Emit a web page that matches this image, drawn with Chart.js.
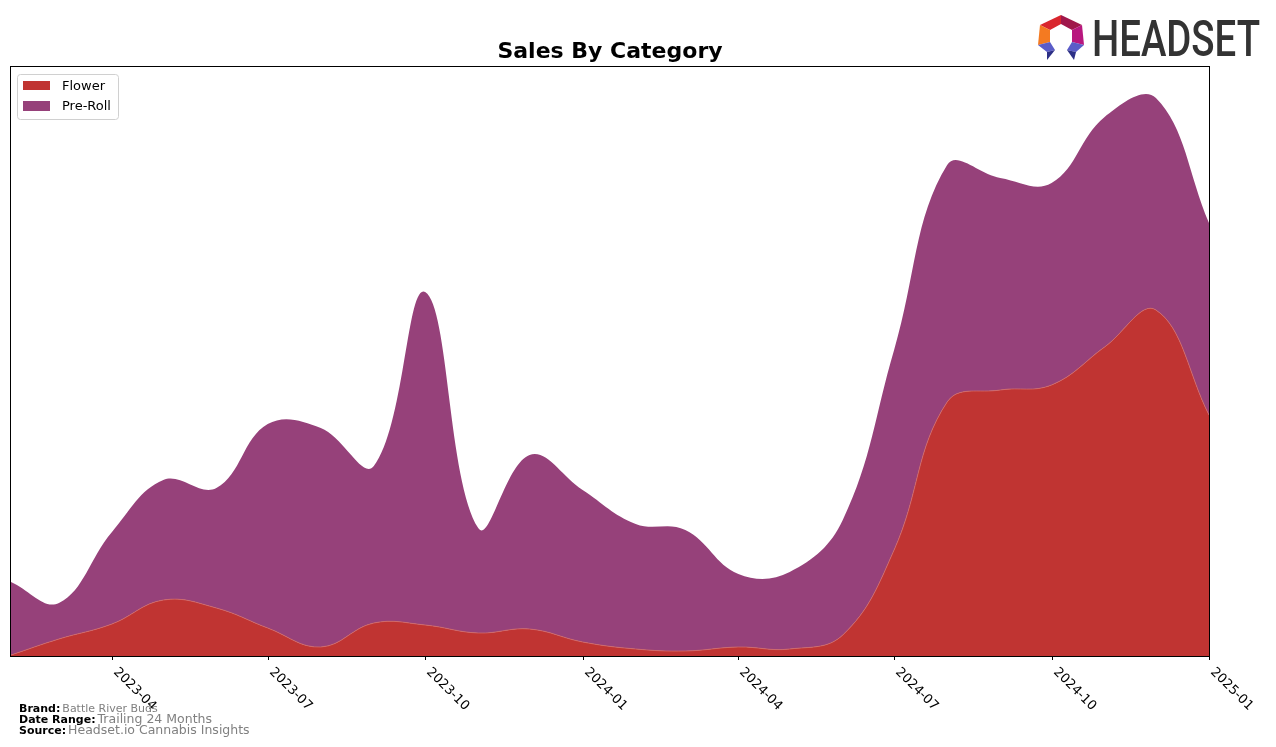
<!DOCTYPE html>
<html>
<head>
<meta charset="utf-8">
<script src="https://cdn.jsdelivr.net/npm/chart.js@4"></script>
<style>
html, body { margin: 0; padding: 0; background: #fff; }
#wrap { position: relative; width: 1276px; height: 747px; }
</style>
</head>
<body>
<div id="wrap"><canvas id="salesChart" width="1276" height="747"></canvas></div>
<script>
// Monthly points, first day of each month
const months = ['2023-02', '2023-03', '2023-04', '2023-05', '2023-06', '2023-07', '2023-08', '2023-09',
  '2023-10', '2023-11', '2023-12', '2024-01', '2024-02', '2024-03', '2024-04', '2024-05',
  '2024-06', '2024-07', '2024-08', '2024-09', '2024-10', '2024-11', '2024-12', '2025-01'];
const flowerSales = [1, 17, 32, 56, 48, 28, 9, 33, 31, 23, 27, 14, 7, 5, 9, 7, 21, 106, 254, 266, 271, 309, 346, 241];
const preRollSales = [73, 36, 92, 120, 120, 204, 219, 157, 333, 105, 174, 152, 125, 121, 73, 77, 115, 200, 237, 212, 202, 230, 212, 192];
const tickLabels = ['2023-04', '2023-07', '2023-10', '2024-01', '2024-04', '2024-07', '2024-10', '2025-01'];

const FLOWER = '#c03432';
const PREROLL = '#96417a';

function dayOffset(label) {
  const [y, m] = label.split('-').map(Number);
  return (Date.UTC(y, m - 1, 1) - Date.UTC(2023, 1, 1)) / 86400000;
}

function series(values) {
  return months.map((m, i) => ({ x: dayOffset(m), y: values[i] }));
}

// Draws frame, rotated date labels, title, legend, footer and logo
const decorations = {
  id: 'decorations',
  afterDraw(chart) {
    const c = chart.ctx;
    const a = chart.chartArea;
    const xs = chart.scales.x;
    c.save();

    // Frame
    c.strokeStyle = '#000';
    c.lineWidth = 1;
    c.strokeRect(a.left - 0.5, a.top - 0.5, a.width + 1, a.height + 1);

    // Ticks + labels
    c.font = '13px "DejaVu Sans", sans-serif';
    c.fillStyle = '#000';
    c.textAlign = 'left';
    c.textBaseline = 'middle';
    tickLabels.forEach((t) => {
      const px = Math.round(xs.getPixelForValue(dayOffset(t))) + 0.5;
      c.beginPath();
      c.moveTo(px, a.bottom);
      c.lineTo(px, a.bottom + 4);
      c.stroke();
      c.save();
      c.translate(px + 3, a.bottom + 14);
      c.rotate(Math.PI / 4);
      c.fillText(t, 0, 0);
      c.restore();
    });

    // Title
    c.font = 'bold 22px "DejaVu Sans", sans-serif';
    c.textAlign = 'center';
    c.fillText('Sales By Category', (a.left + a.right) / 2, 52);

    // Legend
    c.beginPath();
    c.roundRect(17.5, 74.5, 101, 45, 3);
    c.fillStyle = 'rgba(255,255,255,0.8)';
    c.fill();
    c.strokeStyle = '#d0d0d0';
    c.stroke();
    c.font = '13px "DejaVu Sans", sans-serif';
    c.textAlign = 'left';
    c.fillStyle = FLOWER;
    c.fillRect(23, 81, 27, 9);
    c.fillStyle = PREROLL;
    c.fillRect(23, 101, 27, 10);
    c.fillStyle = '#000';
    c.fillText('Flower', 62, 87);
    c.fillText('Pre-Roll', 62, 107);

    // Footer
    const footer = [['Brand:', 'Battle River Buds', 11, 709], ['Date Range:', 'Trailing 24 Months', 12.5, 720], ['Source:', 'Headset.io Cannabis Insights', 12.5, 731]];
    footer.forEach(([k, v, size, y]) => {
      c.font = 'bold 11px "DejaVu Sans", sans-serif';
      c.fillStyle = '#000';
      c.fillText(k, 19, y);
      const w = c.measureText(k).width;
      c.font = size + 'px "DejaVu Sans", sans-serif';
      c.fillStyle = '#808080';
      c.fillText(v, 19 + w + 2, y);
    });

    // Logo icon
    const facets = [
      ['#d9262e', [[1040, 25], [1061, 15], [1061, 24], [1050, 30]]],
      ['#a0174b', [[1061, 15], [1082, 25], [1072, 30], [1061, 24]]],
      ['#f47a21', [[1040, 25], [1050, 30], [1050, 42], [1038, 45]]],
      ['#b8177e', [[1082, 25], [1084, 45], [1072, 42], [1072, 30]]],
      ['#5a5cc8', [[1038, 45], [1050, 42], [1055, 50], [1047, 52]]],
      ['#2c2f86', [[1047, 52], [1055, 50], [1047, 60]]],
      ['#5a5cc8', [[1072, 42], [1084, 45], [1076, 52], [1067, 50]]],
      ['#2c2f86', [[1067, 50], [1076, 52], [1074, 60]]]
    ];
    facets.forEach(([col, pts]) => {
      c.beginPath();
      pts.forEach(([px, py], i) => (i ? c.lineTo(px, py) : c.moveTo(px, py)));
      c.closePath();
      c.fillStyle = col;
      c.fill();
    });

    // Logo wordmark
    c.font = '500 50px Roboto, "DejaVu Sans", sans-serif';
    c.textBaseline = 'alphabetic';
    const tw = c.measureText('HEADSET').width;
    c.save();
    c.translate(1092, 56);
    c.scale(168 / tw, 1);
    c.fillStyle = '#333333';
    c.fillText('HEADSET', 0, 0);
    c.restore();

    c.restore();
  }
};

new Chart(document.getElementById('salesChart'), {
  type: 'line',
  data: {
    datasets: [
      {
        label: 'Flower',
        data: series(flowerSales),
        backgroundColor: FLOWER,
        borderColor: '#d06a6a',
        borderWidth: 0.8,
        fill: 'origin',
        pointRadius: 0,
        tension: 0.4
      },
      {
        label: 'Pre-Roll',
        data: series(preRollSales),
        backgroundColor: PREROLL,
        borderColor: PREROLL,
        borderWidth: 0,
        fill: '-1',
        pointRadius: 0,
        tension: 0.4
      }
    ]
  },
  options: {
    responsive: false,
    animation: false,
    events: [],
    layout: { padding: { left: 11, top: 67, right: 67, bottom: 91 } },
    plugins: {
      legend: { display: false },
      tooltip: { enabled: false },
      title: { display: false }
    },
    scales: {
      x: {
        type: 'linear',
        display: false,
        min: 0,
        max: dayOffset(months[months.length - 1])
      },
      y: {
        display: false,
        stacked: true,
        min: 0,
        max: 589
      }
    }
  },
  plugins: [decorations]
});
</script>
</body>
</html>
